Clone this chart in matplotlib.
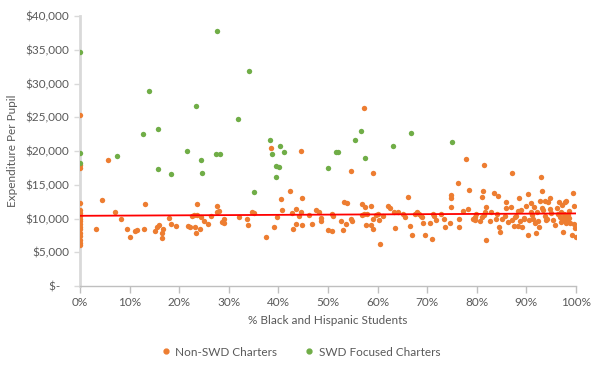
import matplotlib
matplotlib.use("Agg")
import matplotlib.pyplot as plt
from matplotlib.ticker import FuncFormatter
from matplotlib.lines import Line2D

# ---- data (x = % Black and Hispanic students, y = expenditure per pupil in $) ----
non_swd_x = [
    0, 0, 0, 0, 0, 0, 0, 0, 0, 0, 0, 0, 0, 0, 0, 0, 0,
    3.3, 4.4, 5.6, 7.1, 8.3, 9.5, 10.1, 11.0, 11.4, 12.9, 13.1, 15.1, 15.5, 15.9,
    16.5, 16.7, 16.6, 18.0, 18.4, 19.3, 21.8, 22.1, 22.5, 22.9, 23.5, 23.6, 23.2,
    23.4, 24.2, 24.4, 25.1, 25.8, 26.5, 27.7, 27.7, 28.1, 28.7, 29.1, 29.1, 32.0,
    33.6, 33.9, 34.7, 35.1, 37.5, 38.5, 39.2, 39.8, 40.6, 40.8, 42.4, 42.9, 42.8,
    43.6, 43.6, 44.1, 44.5, 44.6, 44.7, 44.7, 46.2, 46.8, 47.5, 48.1, 48.5, 48.6,
    50.1, 50.8, 50.9, 51.0, 52.6, 53.1, 53.2, 53.8, 53.7, 54.6, 54.9, 54.6, 56.8,
    56.9, 57.2, 57.3, 57.5, 57.7, 58.6, 57.9, 58.6, 59.1, 59.1, 59.1, 59.7, 60.1,
    60.3, 60.5, 61.1, 62.1, 62.6, 63.3, 64.1, 63.5, 65.2, 65.5, 66.2, 66.5, 67.0,
    67.6, 68.0, 68.4, 68.7, 69.0, 69.1, 69.5, 70.6, 70.9, 71.1, 71.4, 71.8, 72.8,
    73.4, 73.6, 74.6, 74.7, 74.7, 74.8,
    76.2, 76.4, 76.4, 77.3, 77.9, 78.3, 78.5, 79.3, 79.6, 79.9, 79.7, 80.6, 81.0,
    81.4, 81.7, 81.2, 81.1, 81.5, 81.8, 81.9, 82.7, 82.8, 83.4, 83.8, 84.0, 84.3,
    84.5, 84.6, 85.1, 85.6, 85.8, 85.9, 86.3, 86.9, 87.1, 87.1, 87.4, 87.8, 88.0,
    88.3, 88.4, 88.6, 88.7, 88.9, 89.2, 89.5, 89.6, 90.0, 90.3, 90.4, 90.5, 90.9,
    91.0, 91.1, 91.3, 91.5, 91.7, 91.9, 92.1, 92.3, 92.6, 92.7, 92.9, 93.1, 93.2,
    93.4, 93.7, 94.3, 93.7, 94.1, 93.9, 94.8, 94.8, 95.0, 95.4, 95.8, 96.2, 96.5,
    96.7, 97.1, 97.4, 97.0, 97.2, 97.4, 97.7, 98.0, 97.8, 98.2, 98.5, 98.6, 98.8,
    99.1, 99.4, 99.5, 99.6, 99.7, 100.0, 96.3, 97.6, 98.3, 96.9, 98.0,
]
non_swd_y = [
    25400, 18000, 17500, 12300, 11200, 10800, 10400, 10000, 9600, 9200, 8800, 8400,
    7800, 7400, 6800, 6400, 6100,
    8400, 12700, 18600, 10900, 10000, 8500, 7200, 8200, 8300, 8500, 12100, 8100, 8700, 9100,
    7900, 8400, 7100, 10100, 9200, 8900, 8900, 8800, 10300, 10500, 10500, 12200, 8700,
    7900, 8400, 10200, 9600, 9200, 10300, 11900, 10900, 11100, 9500, 9900, 9300, 10200,
    10000, 9100, 11000, 10800, 7300, 20400, 8700, 10200, 12900, 11200, 14100, 8400, 10800,
    11400, 9200, 10400, 11000, 20000, 13000, 9100, 10500, 9200, 11200, 10900, 10100, 9600,
    8300, 8100, 10700, 10400, 9600, 8300, 12400, 12300, 9200, 9900, 9700, 17000, 12200,
    10500, 10700, 26400, 11700, 9100, 9100, 10600, 11800, 9900, 8400, 16800, 10500, 10600,
    9800, 6200, 10300, 11900, 11600, 10900, 11000, 8600, 10600, 10200, 13200, 8900, 7600,
    10600, 11000, 10700, 10400, 10200, 9300, 7500, 9400, 6900, 10700, 10400, 9800, 10600,
    10000, 8800, 9300, 11700, 13100, 13500,
    15200, 9900, 8700, 11100, 18800, 11400, 14200, 9900, 10200, 10700, 9800, 9700, 10200,
    10500, 11000, 14100, 13200, 18000, 6800, 11700, 9600, 10900, 13800, 9900, 10700, 13400,
    8700, 8000, 9900, 10400, 12500, 11600, 9500, 11700, 16700, 9800, 8900, 10200, 10400,
    11100, 8900, 13100, 9700, 11200, 8700, 10100, 9900, 11800, 13700, 7600, 9800, 12300,
    11000, 10500, 10000, 11700, 9300, 7800, 10900, 9600, 8800, 12600, 16200, 14100, 11600,
    11300, 12600, 12500, 10400, 10000, 9800, 13100, 11400, 10800, 9800, 9000, 11500, 12500,
    10200, 10000, 9800, 11000, 12000, 8000, 12400, 12600, 10300, 9800, 10100, 11100, 9300,
    7500, 13800, 11900, 9200, 8600, 7300, 10700, 10600, 10500, 9500, 9400,
]

swd_x = [
    0, 0, 0, 7.4, 12.8, 13.9, 15.7, 15.8, 18.4, 21.6, 23.4, 24.4, 24.6, 27.5, 28.2,
    27.7, 31.9, 34.0, 35.0, 38.4, 38.8, 39.5, 39.6, 40.1, 40.3, 41.2, 50.1, 51.7,
    52.1, 55.4, 56.6, 57.4, 63.1, 66.7, 74.9,
]
swd_y = [
    34600, 19700, 18200, 19300, 22500, 28900, 23300, 17400, 16600, 20000, 26600, 18600,
    16700, 19500, 19500, 37800, 24800, 31900, 13900, 21600, 19600, 16200, 17800, 17600,
    20700, 19800, 17500, 19800, 19800, 21600, 23000, 18900, 20700, 22700, 21300,
]

# linear trendline of Non-SWD Charters (endpoints)
trend_x = [0, 100]
trend_y = [10400, 10750]

x_ticks = [0, 10, 20, 30, 40, 50, 60, 70, 80, 90, 100]
y_ticks = [0, 5000, 10000, 15000, 20000, 25000, 30000, 35000, 40000]

series_names = ["Non-SWD Charters", "SWD Focused Charters"]
x_title = "% Black and Hispanic Students"
y_title = "Expenditure Per Pupil"

# ---- style ----
ORANGE = "#ED7D31"
GREEN = "#70AD47"
TXT = "#595959"
plt.rcParams["font.family"] = ["Lato", "DejaVu Sans"]

fig = plt.figure(figsize=(6.0, 3.69), dpi=100)
ax = fig.add_axes([80 / 600, 1 - 286 / 369, (576 - 80) / 600, (286 - 16) / 369])

ax.scatter(non_swd_x, non_swd_y, s=15, color=ORANGE, linewidths=0, zorder=3)
ax.scatter(swd_x, swd_y, s=15, color=GREEN, linewidths=0, zorder=4)
ax.plot(trend_x, trend_y, color="#FF0000", lw=1.3, zorder=5)

ax.set_xlim(0, 100)
ax.set_ylim(0, 40000)
ax.set_xticks(x_ticks)
ax.set_yticks(y_ticks)
ax.xaxis.set_major_formatter(FuncFormatter(lambda v, p: f"{int(v)}%"))


def yfmt(v, p):
    if v == 0:
        return "\\$-   "
    return "\\$" + f"{int(v):,}"


ax.yaxis.set_major_formatter(FuncFormatter(yfmt))

for s in ["top", "right"]:
    ax.spines[s].set_visible(False)
ax.spines["left"].set_color("#D9D9D9")
ax.spines["left"].set_linewidth(2.0)
ax.spines["bottom"].set_color("#BFBFBF")
ax.spines["bottom"].set_linewidth(1.0)
ax.tick_params(axis="x", colors="#BFBFBF", labelcolor=TXT, labelsize=8.5, length=5, width=1, pad=3)
ax.tick_params(axis="y", colors="#D9D9D9", labelcolor=TXT, labelsize=8.5, length=4, width=1, pad=4)

ax.set_xlabel(x_title, color=TXT, fontsize=8.5, labelpad=5)
ax.set_ylabel(y_title, color=TXT, fontsize=8.5, labelpad=5)

handles = [
    Line2D([], [], marker="o", ls="", color=ORANGE, markersize=3.5),
    Line2D([], [], marker="o", ls="", color=GREEN, markersize=3.5),
]
leg = fig.legend(handles, series_names, loc="center", bbox_to_anchor=(0.5, 1 - 352 / 369),
                 ncol=2, frameon=False, fontsize=8.5, handletextpad=0.3, columnspacing=2.2,
                 handlelength=1.0)
for t in leg.get_texts():
    t.set_color(TXT)

fig.savefig("out.png", dpi=100)
